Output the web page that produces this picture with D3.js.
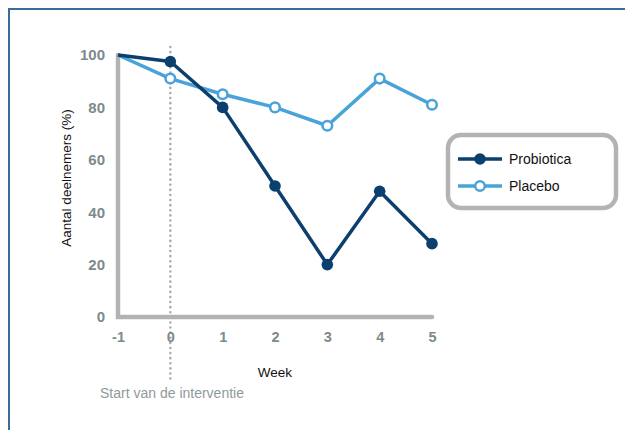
<!DOCTYPE html>
<html><head><meta charset="utf-8">
<script src="https://cdn.jsdelivr.net/npm/d3@7"></script>
<style>body{margin:0;background:#fff;} svg{display:block;}</style>
</head><body>
<script>
const weeks = [-1, 0, 1, 2, 3, 4, 5];
const probiotica = [100, 97.5, 80, 50, 20, 48, 28];
const placebo = [100, 91, 85, 80, 73, 91, 81];
const yTicks = [0, 20, 40, 60, 80, 100];
const seriesNames = ["Probiotica", "Placebo"];
const colors = ["#0b3f6e", "#4aa3d8"];

const W = 625, H = 430;
const svg = d3.select("body").append("svg").attr("width", W).attr("height", H);
const font = "Helvetica, Arial, 'Liberation Sans', sans-serif";

// frame
svg.append("path").attr("d", `M9,430 L9,9 L625,9`).attr("fill","none").attr("stroke","#3b6c98").attr("stroke-width",2);

const x = d3.scaleLinear().domain([-1, 5]).range([118, 432]);
const y = d3.scaleLinear().domain([0, 100]).range([317, 55]);

// dotted intervention line
svg.append("line").attr("x1", x(0)).attr("x2", x(0)).attr("y1", 47).attr("y2", 382)
  .attr("stroke", "#a9a9a9").attr("stroke-width", 2.5).attr("stroke-dasharray", "0.1 5").attr("stroke-linecap","round");

// axes lines
svg.append("path").attr("d", `M${x(-1)},${y(100)} L${x(-1)},${y(0)} L${x(5)},${y(0)}`)
  .attr("fill","none").attr("stroke","#b3b3b3").attr("stroke-width",4.5).attr("stroke-linecap","round").attr("stroke-linejoin","miter");

// y ticks
const yAxis = d3.axisLeft(y).tickValues(yTicks).tickSize(0).tickPadding(13);
const gy = svg.append("g").attr("transform", `translate(${x(-1)},0)`).call(yAxis);
gy.select(".domain").remove();
gy.selectAll("text").attr("font-family", font).attr("font-size", 15).attr("font-weight","bold").attr("fill","#7d8a8c");

// x ticks
const xAxis = d3.axisBottom(x).tickValues(weeks).tickSize(0).tickPadding(15).tickFormat(d => String(d));
const gx = svg.append("g").attr("transform", `translate(0,${y(0)})`).call(xAxis);
gx.select(".domain").remove();
gx.selectAll("text").attr("font-family", font).attr("font-size", 14.5).attr("font-weight","bold").attr("fill","#7d8a8c");

// labels
svg.append("text").attr("x", 275).attr("y", 377).attr("text-anchor","middle").attr("font-family", font).attr("font-size", 13.5).attr("fill","#111").text("Week");
svg.append("text").attr("transform", "translate(71,178) rotate(-90)").attr("text-anchor","middle").attr("font-family", font).attr("font-size", 13.5).attr("fill","#111").text("Aantal deelnemers (%)");
svg.append("text").attr("x", 100).attr("y", 398).attr("font-family", font).attr("font-size", 14).attr("fill","#8f9a9b").text("Start van de interventie");

const line = d3.line().x((d,i)=>x(weeks[i])).y(d=>y(d));
const data = [probiotica, placebo];
[1,0].forEach(s => {
  svg.append("path").datum(data[s]).attr("d", line).attr("fill","none").attr("stroke", colors[s]).attr("stroke-width", 3.5).attr("stroke-linejoin","round");
});
[1,0].forEach(s => {
  svg.selectAll(null).data(data[s].slice(1)).enter().append("circle")
    .attr("cx", (d,i)=>x(weeks[i+1])).attr("cy", d=>y(d))
    .attr("r", s===0 ? 5.8 : 4.8)
    .attr("fill", s===0 ? colors[0] : "#fff")
    .attr("stroke", colors[s]).attr("stroke-width", s===0 ? 0 : 2.5);
});

// legend
svg.append("rect").attr("x", 448).attr("y", 135).attr("width", 168).attr("height", 73).attr("rx", 13)
  .attr("fill","#fff").attr("stroke","#b3b3b3").attr("stroke-width",4.5);
seriesNames.forEach((n, s) => {
  const ly = 159 + s*27;
  svg.append("line").attr("x1", 458).attr("x2", 502).attr("y1", ly).attr("y2", ly).attr("stroke", colors[s]).attr("stroke-width", 3.5);
  svg.append("circle").attr("cx", 480).attr("cy", ly).attr("r", s===0?5.8:4.8).attr("fill", s===0?colors[0]:"#fff").attr("stroke", colors[s]).attr("stroke-width", s===0?0:2.5);
  svg.append("text").attr("x", 509).attr("y", ly+5).attr("font-family", font).attr("font-size", 14).attr("fill","#111").text(n);
});
</script>
</body></html>
